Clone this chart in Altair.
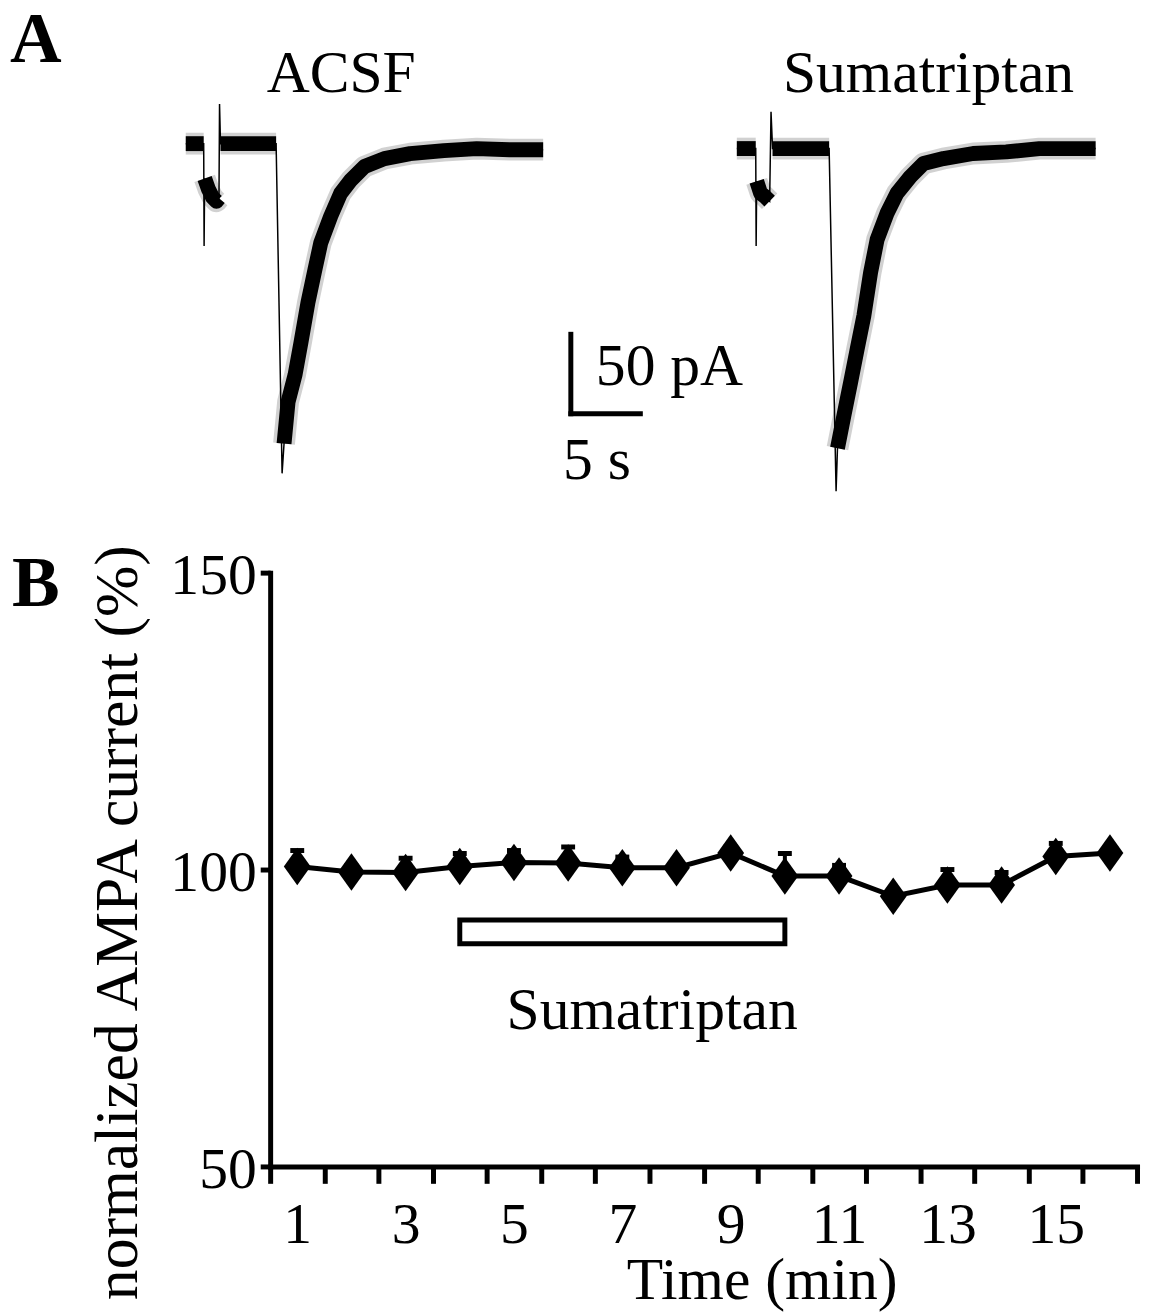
import altair as alt
import pandas as pd

FONT = "Liberation Serif"

# ---------------- Panel B data (normalized AMPA current) ----------------
time_min = list(range(1, 17))
ampa_pct = [100.5, 99.6, 99.5, 100.5, 101.2, 101.1, 100.3, 100.3,
            102.8, 98.9, 98.9, 95.5, 97.4, 97.4, 102.2, 102.8]
ampa_sem = [2.7, 1.0, 2.4, 2.2, 2.0, 2.7, 1.8, 0.8,
            1.0, 3.8, 1.8, 1.0, 2.6, 2.1, 2.2, 1.0]
drug_name = ["Sumatriptan"]
drug_start = [4]
drug_end = [10]
x_tick_values = [k + 0.5 for k in range(17)]
y_tick_values = [50, 100, 150]

# ---------------- Panel A data (current traces, s / pA) ----------------
acsf_t = [0, 0.6, 1.29, 1.32, 1.36, 1.64, 1.93, 2.21, 2.39, 2.43, 2.5, 4.5, 6.5,
          6.93, 7.07, 7.36, 7.86, 8.29, 8.79, 9.29, 9.71, 10.43, 11.14, 11.86,
          12.86, 14.29, 16.14, 18.57, 20.93, 23.29, 25.71]
acsf_i = [0, 0, 0, -64.4, -21.9, -28.8, -33.8, -36.3, -34.4, 25.0, 0, 0, 0,
          -207.5, -188.8, -162.5, -145.6, -125, -100, -79.4, -62.5, -45.6, -31.3, -23.1,
          -14.4, -9.4, -6.3, -4.4, -3.1, -3.8, -3.8]
acsf_part = (["base1"] * 3 + ["spike"] + ["dip"] * 5 + ["spike"] + ["base2"] * 3
             + ["spike"] + ["decay"] * 17)

suma_t = [0, 0.7, 1.36, 1.39, 1.43, 1.71, 2.0, 2.36, 2.46, 2.57, 4.57, 6.64,
          7.14, 7.24, 7.71, 8.19, 8.66, 9.14, 9.62, 10.09, 10.81, 11.52, 12.48,
          13.43, 14.86, 17.0, 19.38, 21.76, 24.14, 25.81]
suma_i = [-3.1, -3.1, -3.1, -64.4, -23.7, -31.2, -33.1, -36.2, 20.0, -3.1, -3.1, -3.1,
          -218.7, -191.7, -170.8, -150, -129.2, -108.3, -81.2, -60.4, -43.7, -31.2, -20.8,
          -12.5, -9.4, -6.2, -5.2, -3.1, -3.1, -3.1]
suma_part = (["base1"] * 3 + ["spike"] + ["dip"] * 4 + ["spike"] + ["base2"] * 3
             + ["spike"] + ["decay"] * 17)
suma_gap = 39.64  # horizontal placement of the second trace (s)

scale_bar_s = 5
scale_bar_pA = 50
panel_labels = ["A", "B"]
trace_titles = ["ACSF", "Sumatriptan"]

# ---------------- tables ----------------
dfB = pd.DataFrame({"time": time_min, "val": ampa_pct, "sem": ampa_sem})
dfB["hi"] = dfB["val"] + dfB["sem"]
drug = pd.DataFrame({"name": drug_name, "start": drug_start, "end": drug_end})

acsf = pd.DataFrame({"t": acsf_t, "i": acsf_i, "part": acsf_part})
acsf["trace"] = "ACSF"
acsf["tp"] = acsf["t"]
suma = pd.DataFrame({"t": suma_t, "i": suma_i, "part": suma_part})
suma["trace"] = "Sumatriptan"
suma["tp"] = suma["t"] + suma_gap
traces = pd.concat([acsf, suma], ignore_index=True)
traces["order"] = range(len(traces))
traces["seg"] = traces["trace"] + "-" + traces["part"]
band = traces[traces["part"] != "spike"]

one = pd.DataFrame({"k": [0]})

# ---------------- Panel B ----------------
xs = alt.Scale(domain=[0.5, 16.5], nice=False, zero=False)
ys = alt.Scale(domain=[50, 150], nice=False, zero=False)

x_axis = alt.Axis(
    values=x_tick_values,
    labelExpr="((datum.value + 0.5) % 2 == 1 && datum.value < 16) ? format(datum.value + 0.5, 'd') : ''",
    labelOffset=27.3, labelAlign="center", labelBaseline="alphabetic", labelPadding=60,
    labelFont=FONT, labelFontSize=58, labelColor="black",
    labelOverlap=False, labelFlush=False, labelBound=False,
    tickSize=17, tickWidth=5, tickColor="black",
    domainWidth=5, domainColor="black", domainCap="square",
    grid=False,
    title="Time (min)", titleFont=FONT, titleFontSize=60, titleFontWeight="normal",
    titleColor="black", titleX=495, titleY=133, titleBaseline="alphabetic", titleAlign="center",
)
y_axis = alt.Axis(
    values=y_tick_values, format="d",
    labelFont=FONT, labelFontSize=58, labelColor="black", labelPadding=4, labelOffset=4,
    labelBaseline="middle",
    tickSize=10, tickWidth=5, tickColor="black",
    domainWidth=5, domainColor="black", domainCap="square",
    grid=False,
    title="normalized AMPA current (%)", titleFont=FONT, titleFontSize=62,
    titleFontWeight="normal", titleColor="black",
    titleX=-135, titleY=352, titleAngle=270, titleBaseline="alphabetic", titleAlign="center",
)

XB = alt.X("time:Q", scale=xs, axis=x_axis)
YB = alt.Y("val:Q", scale=ys, axis=y_axis)

err_rule = alt.Chart(dfB).mark_rule(color="black", strokeWidth=4).encode(
    x=XB, y=YB, y2="hi:Q")
err_cap = alt.Chart(dfB).mark_tick(orient="horizontal", size=14, thickness=5,
                                   color="black", opacity=1).encode(
    x=XB, y=alt.Y("hi:Q", scale=ys, axis=y_axis))
line = alt.Chart(dfB).mark_line(color="black", strokeWidth=5).encode(x=XB, y=YB)
pts = alt.Chart(dfB).mark_point(shape="M0,-1.4L1,0L0,1.4L-1,0Z", size=730, filled=True,
                                color="black", opacity=1).encode(x=XB, y=YB)
rect = alt.Chart(drug).mark_rect(fill="white", stroke="black", strokeWidth=5).encode(
    x=alt.X("start:Q", scale=xs, axis=x_axis), x2="end:Q",
    y=alt.YDatum(87.5, type="quantitative", scale=ys, axis=y_axis), y2=alt.Y2Datum(91.5))
rect_lbl = alt.Chart(drug).mark_text(font=FONT, fontSize=60, color="black",
                                     align="center", baseline="alphabetic").encode(
    x=alt.XDatum(7.55, type="quantitative", scale=xs, axis=x_axis),
    y=alt.YDatum(73.2, type="quantitative", scale=ys, axis=y_axis),
    text="name:N")
b_lbl = alt.Chart(pd.DataFrame({"lab": [panel_labels[1]]})).mark_text(
    font=FONT, fontSize=72, fontWeight="bold", color="black",
    align="left", baseline="alphabetic").encode(
    x=alt.value(-260), y=alt.value(34), text="lab:N")

panel_b = alt.layer(err_rule, err_cap, line, pts, rect, rect_lbl, b_lbl)

# ---------------- Panel A ----------------
xas = alt.Scale(domain=[6.071, 68.429], nice=False, zero=False)
yas = alt.Scale(domain=[-643.75, -270], nice=False, zero=False)
XA = alt.X("tp:Q", scale=xas, axis=None)
YA = alt.Y("i:Q", scale=yas, axis=None)

fringe = alt.Chart(band).mark_line(color="black", strokeWidth=22, opacity=0.18,
                                   strokeJoin="round").encode(
    x=XA, y=YA, detail="seg:N", order="order:Q")
core = alt.Chart(band).mark_line(color="black", strokeWidth=15,
                                 strokeJoin="round").encode(
    x=XA, y=YA, detail="seg:N", order="order:Q")
thin = alt.Chart(traces).mark_line(color="black", strokeWidth=1.5).encode(
    x=XA, y=YA, detail="trace:N", order="order:Q")

bar_x0, bar_y0 = 27.7, -170
sb_v = alt.Chart(one).mark_rule(color="black", strokeWidth=5, strokeCap="square").encode(
    x=alt.XDatum(bar_x0, type="quantitative", scale=xas, axis=None),
    y=alt.YDatum(bar_y0, type="quantitative", scale=yas, axis=None),
    y2=alt.Y2Datum(bar_y0 + scale_bar_pA))
sb_h = alt.Chart(one).mark_rule(color="black", strokeWidth=5, strokeCap="square").encode(
    x=alt.XDatum(bar_x0, type="quantitative", scale=xas, axis=None),
    x2=alt.X2Datum(bar_x0 + scale_bar_s),
    y=alt.YDatum(bar_y0, type="quantitative", scale=yas, axis=None))


def a_text(label, xd, yd, align="center", size=60, weight="normal"):
    return alt.Chart(pd.DataFrame({"lab": [label]})).mark_text(
        font=FONT, fontSize=size, fontWeight=weight, color="black",
        align=align, baseline="alphabetic").encode(
        x=alt.XDatum(xd, type="quantitative", scale=xas, axis=None),
        y=alt.YDatum(yd, type="quantitative", scale=yas, axis=None),
        text="lab:N")


t_acsf = a_text(trace_titles[0], 11.18, 32.5)
t_suma = a_text(trace_titles[1], 53.43, 32.5)
t_pa = a_text(f"{scale_bar_pA} pA", 29.5, -151.9, align="left")
t_s = a_text(f"{scale_bar_s} s", 27.14, -211.25, align="left")
a_lbl = alt.Chart(pd.DataFrame({"lab": [panel_labels[0]]})).mark_text(
    font=FONT, fontSize=72, fontWeight="bold", color="black",
    align="left", baseline="alphabetic").encode(
    x=alt.value(-262), y=alt.value(-514), text="lab:N")

panel_a = alt.layer(fringe, core, thin, sb_v, sb_h, t_acsf, t_suma, t_pa, t_s, a_lbl)

chart = (
    alt.layer(panel_b, panel_a)
    .resolve_scale(x="independent", y="independent")
    .properties(
        width=873, height=598,
        autosize=alt.AutoSizeParams(type="none"),
        padding={"left": 264, "top": 564, "right": 6, "bottom": 145},
    )
    .configure_view(stroke=None)
)

chart.save("out.html", embed_options={"renderer": "svg", "actions": False})
